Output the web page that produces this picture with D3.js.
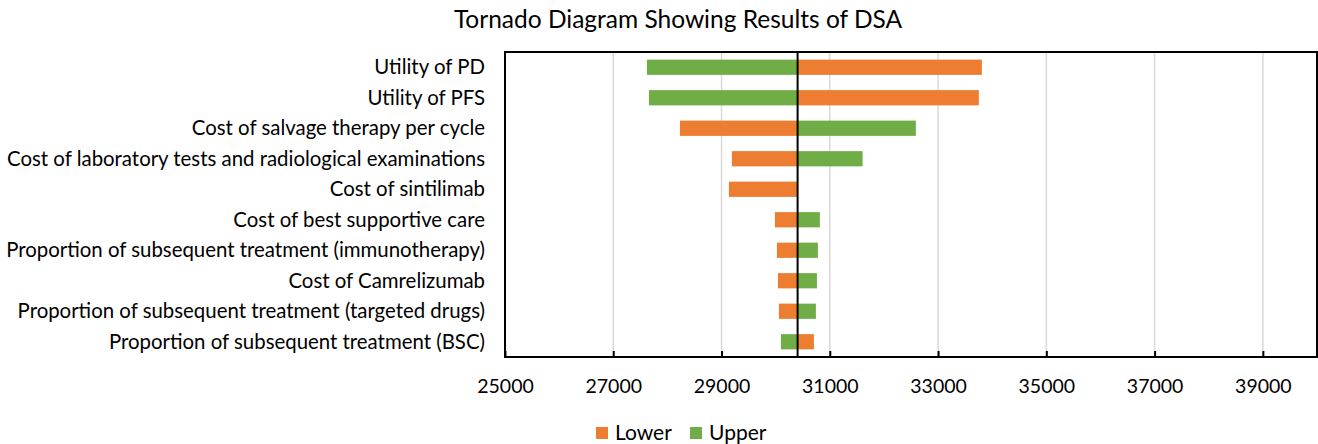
<!DOCTYPE html>
<html>
<head>
<meta charset="utf-8">
<script src="https://cdn.jsdelivr.net/npm/d3@7"></script>
<style>
  html, body { margin: 0; padding: 0; background: #fff; }
  svg { display: block; font-family: Lato, "Open Sans", sans-serif; }
</style>
</head>
<body>
<div id="chart"></div>
<script>
const categories = [
  'Utility of PD',
  'Utility of PFS',
  'Cost of salvage therapy per cycle',
  'Cost of laboratory tests and radiological examinations',
  'Cost of sintilimab',
  'Cost of best supportive care',
  'Proportion of subsequent treatment (immunotherapy)',
  'Cost of Camrelizumab',
  'Proportion of subsequent treatment (targeted drugs)',
  'Proportion of subsequent treatment (BSC)'
];
const baseValue = 30405;
const lowerValues = [33809, 33753, 28232, 29192, 29137, 29986, 30023, 30042, 30060, 30706];
const upperValues = [27622, 27659, 32590, 31606, 30405, 30817, 30780, 30762, 30743, 30097];
const tickValues = [25000, 27000, 29000, 31000, 33000, 35000, 37000, 39000];

const width = 1318
    , height = 444
    , plotLeft = 505
    , plotRight = 1317
    , plotTop = 52
    , plotBottom = 357
    , orange = '#ed7d31'
    , green = '#70ad47'
    , gridColor = '#d9d9d9'
    ;

const svg = d3.select('#chart')
  .append('svg')
  .attr('width', width)
  .attr('height', height);

const x = d3.scaleLinear().domain([25000, 40000]).range([plotLeft, plotRight]);
const y = d3.scaleBand().domain(categories).range([plotTop, plotBottom]).paddingInner(0.5).paddingOuter(0.25);

// title
svg.append('text')
  .attr('x', 678)
  .attr('y', 28)
  .attr('text-anchor', 'middle')
  .style('font-size', '24.5px')
  .style('fill', '#000')
  .text('Tornado Diagram Showing Results of DSA');

// gridlines
svg.append('g')
  .selectAll('line')
  .data(tickValues.slice(1))
  .join('line')
    .attr('x1', d => x(d)).attr('x2', d => x(d))
    .attr('y1', plotTop).attr('y2', plotBottom)
    .attr('stroke', gridColor)
    .attr('stroke-width', 1.5);

// bars
const rows = categories.map((c, i) => ({ cat: c, lower: lowerValues[i], upper: upperValues[i] }));
const bars = svg.append('g');
bars.selectAll('rect.lower')
  .data(rows)
  .join('rect')
    .attr('class', 'lower')
    .attr('x', d => x(Math.min(d.lower, baseValue)))
    .attr('width', d => Math.abs(x(d.lower) - x(baseValue)))
    .attr('y', d => y(d.cat))
    .attr('height', y.bandwidth())
    .attr('fill', orange);
bars.selectAll('rect.upper')
  .data(rows)
  .join('rect')
    .attr('class', 'upper')
    .attr('x', d => x(Math.min(d.upper, baseValue)))
    .attr('width', d => Math.abs(x(d.upper) - x(baseValue)))
    .attr('y', d => y(d.cat))
    .attr('height', y.bandwidth())
    .attr('fill', green);

// base line
svg.append('line')
  .attr('x1', x(baseValue)).attr('x2', x(baseValue))
  .attr('y1', plotTop).attr('y2', plotBottom)
  .attr('stroke', '#000')
  .attr('stroke-width', 2);

// frame
svg.append('rect')
  .attr('x', plotLeft).attr('y', plotTop)
  .attr('width', plotRight - plotLeft).attr('height', plotBottom - plotTop)
  .attr('fill', 'none')
  .attr('stroke', '#000')
  .attr('stroke-width', 2);

// x axis, ticks point up into the plot like the Excel original
const xAxis = svg.append('g')
  .attr('transform', `translate(0,${plotBottom})`)
  .call(d3.axisBottom(x).tickValues(tickValues).tickSize(-6).tickPadding(22).tickFormat(d3.format('d')));
xAxis.select('.domain').remove();
xAxis.selectAll('.tick line').attr('stroke', '#000').attr('stroke-width', 2);
xAxis.selectAll('.tick text')
  .style('font-family', 'Lato, "Open Sans", sans-serif')
  .style('font-size', '19.5px')
  .attr('fill', '#000');

// category labels
svg.append('g')
  .selectAll('text')
  .data(categories)
  .join('text')
    .attr('x', 485)
    .attr('y', d => y(d) + y.bandwidth() / 2)
    .attr('dy', '0.35em')
    .attr('text-anchor', 'end')
    .style('font-size', '20.4px')
    .style('fill', '#000')
    .text(d => d);

// legend
const legendItems = [
  { name: 'Lower', color: orange, x: 596 },
  { name: 'Upper', color: green, x: 690 }
];
const legend = svg.append('g')
  .selectAll('g')
  .data(legendItems)
  .join('g')
    .attr('transform', d => `translate(${d.x},427)`);
legend.append('rect')
  .attr('width', 12).attr('height', 12)
  .attr('fill', d => d.color);
legend.append('text')
  .attr('x', 19)
  .attr('y', 6)
  .attr('dy', '0.35em')
  .style('font-size', '21px')
  .style('fill', '#000')
  .text(d => d.name);
</script>
</body>
</html>
